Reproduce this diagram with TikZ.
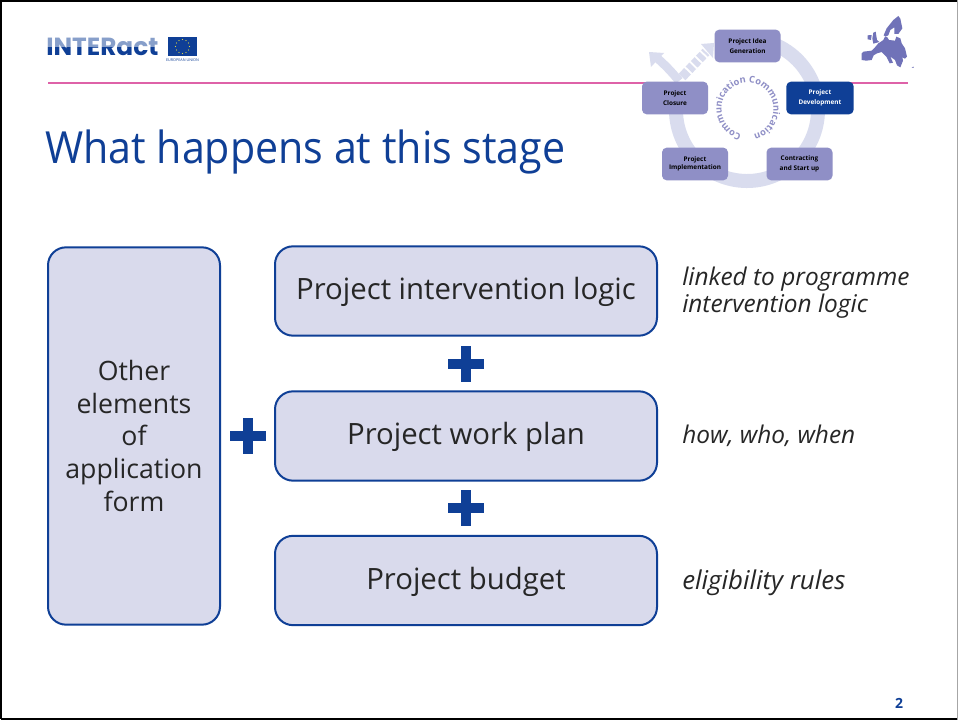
\documentclass[tikz,border=0pt]{standalone}
\usepackage{fontspec}
\setmainfont{Open Sans}
\newfontfamily\titlefont{Open Sans}[FakeStretch=0.93]
\newfontfamily\logofont{Poppins}
\usetikzlibrary{decorations.text,calc}
\definecolor{navy}{HTML}{0F3F96}
\definecolor{pale}{HTML}{D9DAEC}
\definecolor{lav}{HTML}{8F8FC6}
\definecolor{ringc}{HTML}{D9DCEE}
\definecolor{ink}{HTML}{262626}
\definecolor{pinkl}{HTML}{DE62A8}
\definecolor{mapc}{HTML}{7072B8}
\tikzset{
 x=0.75pt,y=-0.75pt,
 bigbox/.style={draw=navy,fill=pale,line width=1.5pt,rounded corners=13.5pt,text=ink,align=center,inner sep=0pt},
 rowbox/.style={bigbox,minimum width=286.5pt,minimum height=67pt,font=\fontsize{22}{24.5}\selectfont,text height=17pt,text depth=3.5pt},
 note/.style={anchor=west,text=ink,font=\fontsize{18.3}{20.4}\selectfont\itshape,align=left,inner sep=0pt},
 plusbar/.style={fill=navy,draw=none},
 stage/.style={fill=lav,rounded corners=3.5pt,minimum width=49.5pt,minimum height=24.5pt,align=center,inner sep=0pt,text=black,font=\fontsize{4.8}{7.5}\selectfont\bfseries},
 ring/.style={draw=ringc,line width=10.5pt}
}
\newcommand{\plusat}[2]{%
 \fill[plusbar] (#1-18,#2-4.7) rectangle (#1+18,#2+4.7);
 \fill[plusbar] (#1-4.7,#2-18) rectangle (#1+4.7,#2+18);}
\begin{document}
\begin{tikzpicture}
\useasboundingbox (0,0) rectangle (958,720);
\fill[white] (0,0) rectangle (958,720);
% slide frame
\draw[black,line width=1.5pt] (1,719) -- (1,1) -- (958,1);
\draw[black,line width=1.5pt] (1,718.7) -- (958,718.7);
\draw[gray!70,line width=0.75pt] (957.5,0) -- (957.5,720);
% header rule (hidden behind the cycle picture)
\coordinate (ruleL) at (48,83);
\coordinate (ruleM) at (647,83);
\coordinate (ruleN) at (850,83);
\coordinate (ruleR) at (908,83);
\draw[pinkl,line width=1.5pt] (ruleL) -- (ruleM) (ruleN) -- (ruleR);
% logo
\node[anchor=base west,inner sep=0pt,text=navy,font=\logofont\fontsize{18.6}{20}\selectfont\bfseries] (logo) at (46,56) {INTERact};
\fill[white,opacity=0.5] (44,36) rectangle (160,47);
\node[fill=navy,minimum width=21.75pt,minimum height=14.25pt,inner sep=0pt] (flag) at (182.5,46.5) {};
\foreach \a in {0,30,...,330} \fill[yellow!70!gray] ($(flag)+(\a:5.2pt)$) circle (0.45pt);
\node[inner sep=0pt,text=navy,font=\fontsize{2.8}{3}\selectfont] (eu) at (182.5,60) {EUROPEAN UNION};
% title
\node[anchor=base west,inner sep=0pt,text=navy,font=\titlefont\fontsize{33.2}{38}\selectfont] (title) at (45,164) {What happens at this stage};
% cycle ring
\coordinate (cc) at (747,110);
\draw[ring] (cc) ++(-78:71) arc[start angle=-78,end angle=190,radius=71];
\coordinate (a1) at (679,81);
\coordinate (a2) at (657,58);
\draw[draw=ringc,line width=6.5pt] (a1) .. controls (672,72) and (664,64) .. (a2);
\fill[ringc] (649,52) -- (664,53) -- (651,67) -- cycle;
\coordinate (d1) at (682,77);
\coordinate (d2) at (706,52);
\draw[draw=ringc,line width=7pt,dash pattern=on 6pt off 1.6pt on 4pt off 1.6pt on 4pt off 1.6pt on 4pt off 1.6pt] (d1) -- (d2);
\fill[ringc] (714,43) -- (701,44) -- (713,58) -- cycle;
% circular text
\path[decorate,decoration={text along path,text align=center,
 text={|\fontsize{7}{8}\selectfont\bfseries\color{lav}|Communication Communication}}]
 (747.5,109) ++(90:26) arc[start angle=90,end angle=450,radius=26];
% stages
\node[stage] (s1) at (747.5,46) {Project Idea\\Generation};
\node[stage,fill=navy,text=white,minimum width=50.5pt] (s2) at (820,98) {Project\\Development};
\node[stage] (s3) at (799.5,164) {Contracting\\and Start up};
\node[stage,font=\fontsize{4.8}{5.8}\selectfont\bfseries] (s4) at (695,164) {Project\\Implementation};
\node[stage] (s5) at (675,98) {Project\\Closure};
% EU map
\begin{scope}[shift={(855,10)},x=0.25pt,y=-0.25pt]
\fill[mapc] (20,130) -- (25,125) -- (50,122) -- (60,112) -- (70,100) -- (78,95) -- (85,90) -- (90,80) -- (97,82) -- (102,90) -- (120,92) -- (124,80) -- (136,85) -- (140,100) -- (150,115) -- (156,140) -- (150,146) -- (142,142) -- (144,152) -- (136,172) -- (126,166) -- (120,150) -- (106,140) -- (114,158) -- (104,160) -- (94,140) -- (80,126) -- (66,130) -- (56,136) -- (50,150) -- (34,152) -- (20,150) -- cycle;
\fill[mapc] (86,76) -- (95,55) -- (115,30) -- (130,18) -- (136,26) -- (142,55) -- (130,72) -- (118,72) -- (118,52) -- (106,60) -- (100,76) -- (92,80) -- cycle;
\fill[mapc] (55,68) -- (62,65) -- (66,90) -- (73,96) -- (55,101) -- (52,86) -- cycle;
\fill[mapc] (38,76) -- (50,75) -- (48,90) -- (38,88) -- cycle;
\fill[mapc] (170,172) -- (176,170) -- (176,174) -- cycle;
\end{scope}
% main boxes
\node[bigbox,minimum width=129pt,minimum height=283pt,text width=120pt,font=\fontsize{20}{24.6}\selectfont] (other) at (134,436) {Other\\elements\\of\\application\\form};
\node[rowbox] (logic) at (466,291) {Project intervention logic};
\node[rowbox] (plan) at (466,436) {Project work plan};
\node[rowbox] (budget) at (466,580.5) {Project budget};
% plus signs
\plusat{466}{364}
\plusat{466}{508}
\plusat{248}{436}
% notes
\node[note] (n1) at (682,293) {linked to programme\\intervention logic};
\node[note] (n2) at (682,436) {how, who, when};
\node[note,font=\fontsize{19.4}{20}\selectfont\itshape] (n3) at (682,583) {eligibility rules};
% page number
\node[inner sep=0pt,text=navy,font=\fontsize{10.5}{12}\selectfont\bfseries] (pg) at (899,703) {2};
\end{tikzpicture}
\end{document}
